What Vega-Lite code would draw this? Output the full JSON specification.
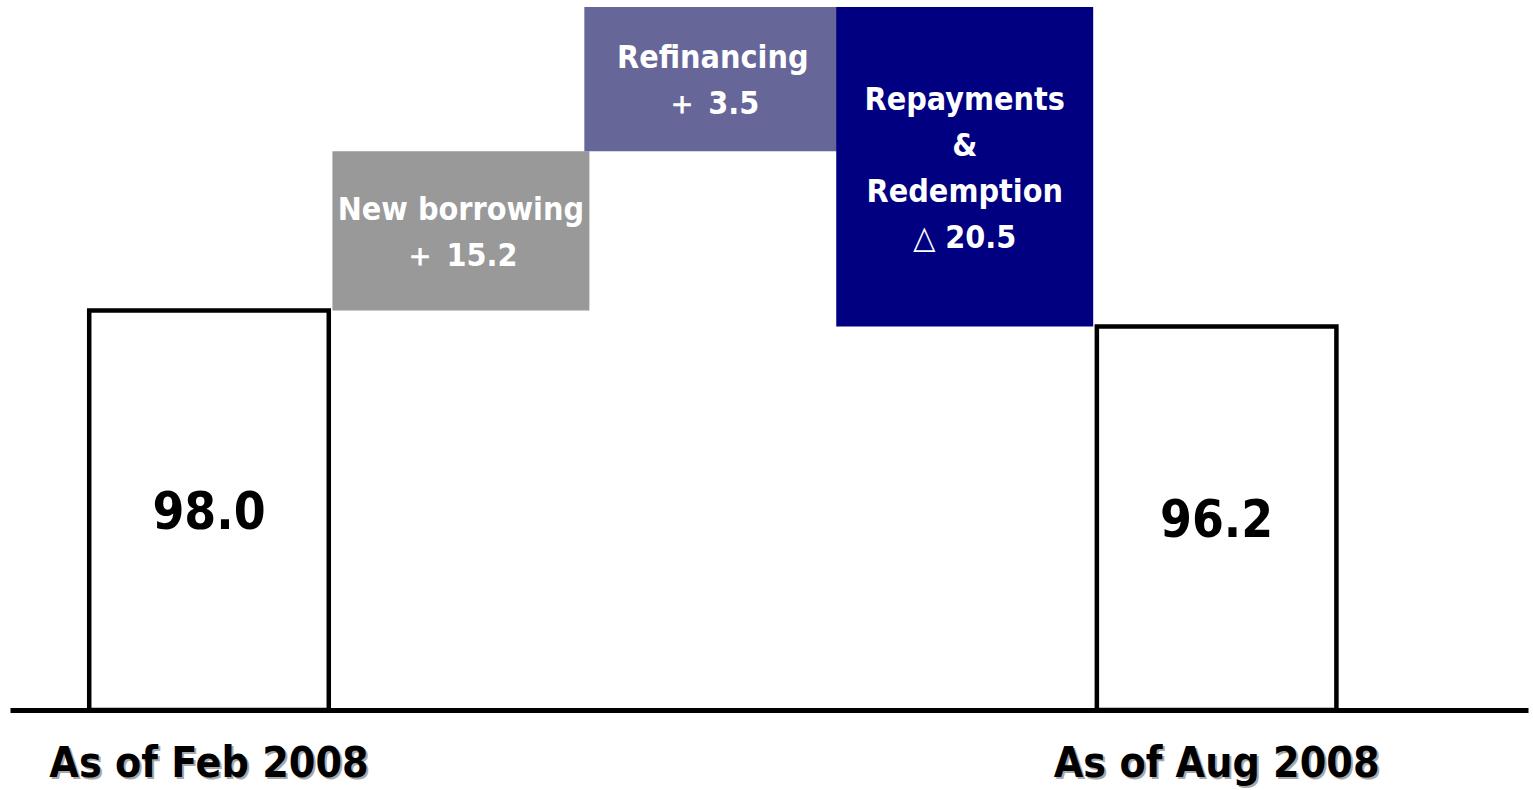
{
  "$schema": "https://vega.github.io/schema/vega-lite/v6.json",
  "width": 1518,
  "height": 710,
  "autosize": {"type": "none"},
  "padding": {"left": 10, "right": 5, "top": 0, "bottom": 80},
  "background": "white",
  "config": {"view": {"stroke": null}},
  "data": {
    "values": [
      {"step": "As of Feb 2008", "kind": "total", "start": 0, "end": 98.0, "label": "98.0"},
      {"step": "New borrowing", "kind": "increase", "start": 98.0, "end": 137.1, "label": "New borrowing\n＋ 15.2"},
      {"step": "Refinancing", "kind": "refinance", "start": 137.1, "end": 172.5, "label": "Refinancing\n＋ 3.5"},
      {"step": "Repayments & Redemption", "kind": "decrease", "start": 172.5, "end": 94.1, "label": "Repayments\n&\nRedemption\n△ 20.5"},
      {"step": "As of Aug 2008", "kind": "total", "start": 0, "end": 94.1, "label": "96.2"}
    ]
  },
  "resolve": {"axis": {"x": "independent"}},
  "layer": [
    {
      "encoding": {
        "x": {
          "field": "step",
          "type": "nominal",
          "scale": {
            "type": "band",
            "domain": ["As of Feb 2008", "New borrowing", "Refinancing", "Repayments & Redemption", "As of Aug 2008"],
            "paddingInner": 0,
            "paddingOuter": 0.513,
            "align": 0.2826
          },
          "axis": {
            "orient": "bottom",
            "title": null,
            "domain": true,
            "domainColor": "black",
            "domainWidth": 5,
            "ticks": false,
            "tickSize": 0,
            "labelExpr": "datum.value == 'As of Feb 2008' || datum.value == 'As of Aug 2008' ? datum.value : ''",
            "labelAngle": 0,
            "labelFont": "DejaVu Sans Condensed",
            "labelFontSize": 42.5,
            "labelFontWeight": "bold",
            "labelColor": "black",
            "labelBaseline": "alphabetic",
            "labelPadding": 66,
            "labelOverlap": false,
            "labelLimit": 1000,
            "labelFlush": false,
            "labelBound": false,
            "zindex": 1,
            "translate": 0.5
          }
        }
      },
      "layer": [
        {
          "transform": [{"filter": "datum.kind !== 'total'"}],
          "mark": {"type": "bar", "width": {"band": 1.02}},
          "encoding": {
            "y": {"field": "start", "type": "quantitative", "scale": {"domain": [0, 174.2], "nice": false, "zero": true}, "axis": null},
            "y2": {"field": "end"},
            "color": {
              "field": "kind",
              "type": "nominal",
              "scale": {"domain": ["increase", "refinance", "decrease"], "range": ["#999999", "#666699", "#000080"]},
              "legend": null
            }
          }
        },
        {
          "transform": [{"filter": "datum.kind === 'total'"}],
          "mark": {"type": "bar", "width": {"band": 0.951}, "fill": "white", "stroke": "black", "strokeWidth": 4.5},
          "encoding": {
            "y": {"field": "start", "type": "quantitative", "axis": null},
            "y2": {"field": "end"}
          }
        },
        {
          "transform": [
            {"filter": "datum.kind !== 'total'"},
            {"calculate": "(datum.start + datum.end) / 2 + (length(split(datum.label, '\\n')) - 1) / 2 * 11.284", "as": "texty"}
          ],
          "mark": {"type": "text", "color": "white", "font": "DejaVu Sans Condensed", "fontWeight": "bold", "fontSize": 32, "lineBreak": "\n", "lineHeight": 46, "baseline": "middle", "align": "center", "dy": 2},
          "encoding": {
            "y": {"field": "texty", "type": "quantitative", "axis": null},
            "text": {"field": "label"}
          }
        },
        {
          "transform": [
            {"filter": "datum.kind === 'total'"},
            {"calculate": "(datum.start + datum.end) / 2", "as": "mid"}
          ],
          "mark": {"type": "text", "color": "black", "font": "DejaVu Sans Condensed", "fontWeight": "bold", "fontSize": 51, "baseline": "middle", "align": "center", "dy": 4},
          "encoding": {
            "y": {"field": "mid", "type": "quantitative", "axis": null},
            "text": {"field": "label"}
          }
        }
      ]
    },
    {
      "mark": {"type": "text", "text": ""},
      "encoding": {
        "x": {
          "field": "step",
          "type": "nominal",
          "axis": {
            "orient": "bottom",
            "title": null,
            "domain": false,
            "ticks": false,
            "tickSize": 0,
            "labelExpr": "datum.value == 'As of Feb 2008' || datum.value == 'As of Aug 2008' ? datum.value : ''",
            "labelAngle": 0,
            "labelFont": "DejaVu Sans Condensed",
            "labelFontSize": 42.5,
            "labelFontWeight": "bold",
            "labelColor": "#a8a8a8",
            "labelBaseline": "alphabetic",
            "labelPadding": 66,
            "labelOverlap": false,
            "labelLimit": 1000,
            "labelFlush": false,
            "labelBound": false,
            "zindex": 0,
            "translate": 2.5
          }
        }
      }
    }
  ]
}
